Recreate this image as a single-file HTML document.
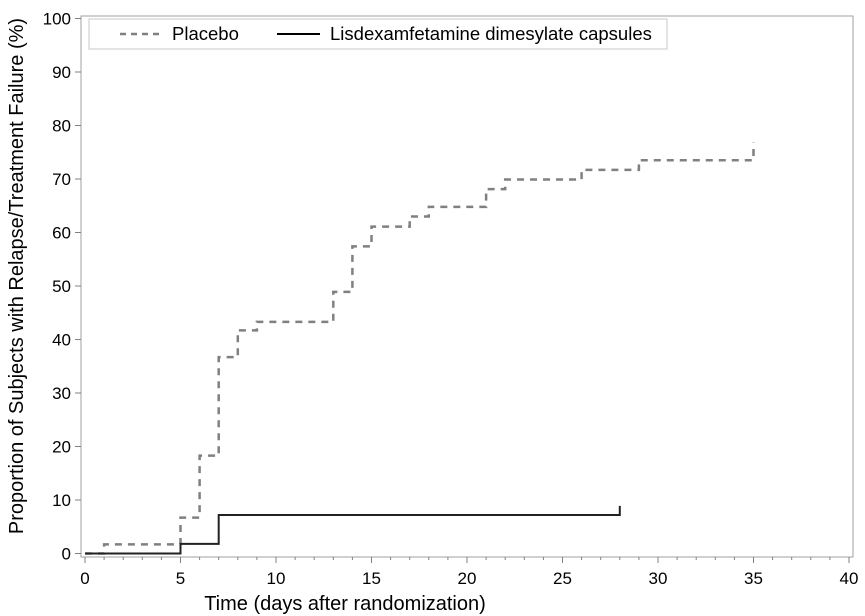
<!DOCTYPE html>
<html><head><meta charset="utf-8"><style>
body{margin:0;background:#fff;}
svg{display:block;font-family:"Liberation Sans",sans-serif;}
</style></head><body>
<svg id="chart" width="865" height="616">
<g id="axes"></g><g id="series"></g>
<g>
<rect x="89" y="19" width="578" height="30" fill="#fff" stroke="#c8c8c8"/>
<line x1="120" y1="34" x2="162" y2="34" stroke="#808080" stroke-width="2.5" stroke-dasharray="6,5"/>
<text x="172" y="40" font-size="18.5" fill="#000">Placebo</text>
<line x1="277" y1="34" x2="320" y2="34" stroke="#000" stroke-width="2"/>
<text x="330" y="40" font-size="18.5" fill="#000">Lisdexamfetamine dimesylate capsules</text>
</g>
<text x="345" y="610" font-size="20" text-anchor="middle">Time (days after randomization)</text>
<text transform="translate(23,276) rotate(-90)" font-size="20" text-anchor="middle">Proportion of Subjects with Relapse/Treatment Failure (%)</text>
</svg>
<script>
const placeboDays=[0,1,5,6,7,8,9,13,14,15,17,18,21,22,26,29,35];
const placeboVals=[0,1.7,6.7,18.3,36.7,41.7,43.3,48.9,57.4,61.1,63.0,64.8,68.1,69.9,71.7,73.5,76.8];
const lisdexDays=[0,5,7,28];
const lisdexVals=[0,1.8,7.2,8.9];
const xTicks=[0,5,10,15,20,25,30,35,40];
const yTicks=[0,10,20,30,40,50,60,70,80,90,100];
const NS="http://www.w3.org/2000/svg";
const X=d=>85+d*19.1;
const Y=v=>553.5-v*5.35;
const axes=document.getElementById('axes'),series=document.getElementById('series');
function mk(t,a,p){const e=document.createElementNS(NS,t);for(const k in a)e.setAttribute(k,a[k]);p.appendChild(e);return e;}
const frame=mk('rect',{x:81,y:16,width:772,height:541,fill:'none',stroke:'#a0a0a0'},axes);


for(let d=0;d<=40;d++){const major=d%5===0;
 const t=mk('line',{x1:X(d),x2:X(d),y1:557,y2:major?563:560,stroke:'#808080'},axes);
 
 }
xTicks.forEach(v=>{const t=mk('text',{x:X(v),y:584,'font-size':17,'text-anchor':'middle'},axes);t.textContent=v;
 
 });
yTicks.forEach(v=>{const l=mk('line',{x1:75,x2:81,y1:Y(v),y2:Y(v),stroke:'#808080'},axes);
 
 
 const t=mk('text',{x:71,y:Y(v)+6,'font-size':17,'text-anchor':'end'},axes);t.textContent=v;
 
 });
function stepPath(days,vals){let d='M'+X(days[0])+','+Y(vals[0]);
 for(let i=1;i<days.length;i++){d+=' H'+X(days[i])+' V'+Y(vals[i]);}return d;}
const p=mk('path',{d:stepPath(placeboDays,placeboVals),fill:'none',stroke:'#808080','stroke-width':2.5,'stroke-dasharray':'7,6'},series);


const l=mk('path',{d:stepPath(lisdexDays,lisdexVals),fill:'none',stroke:'#222','stroke-width':2},series);


</script>
</body></html>
